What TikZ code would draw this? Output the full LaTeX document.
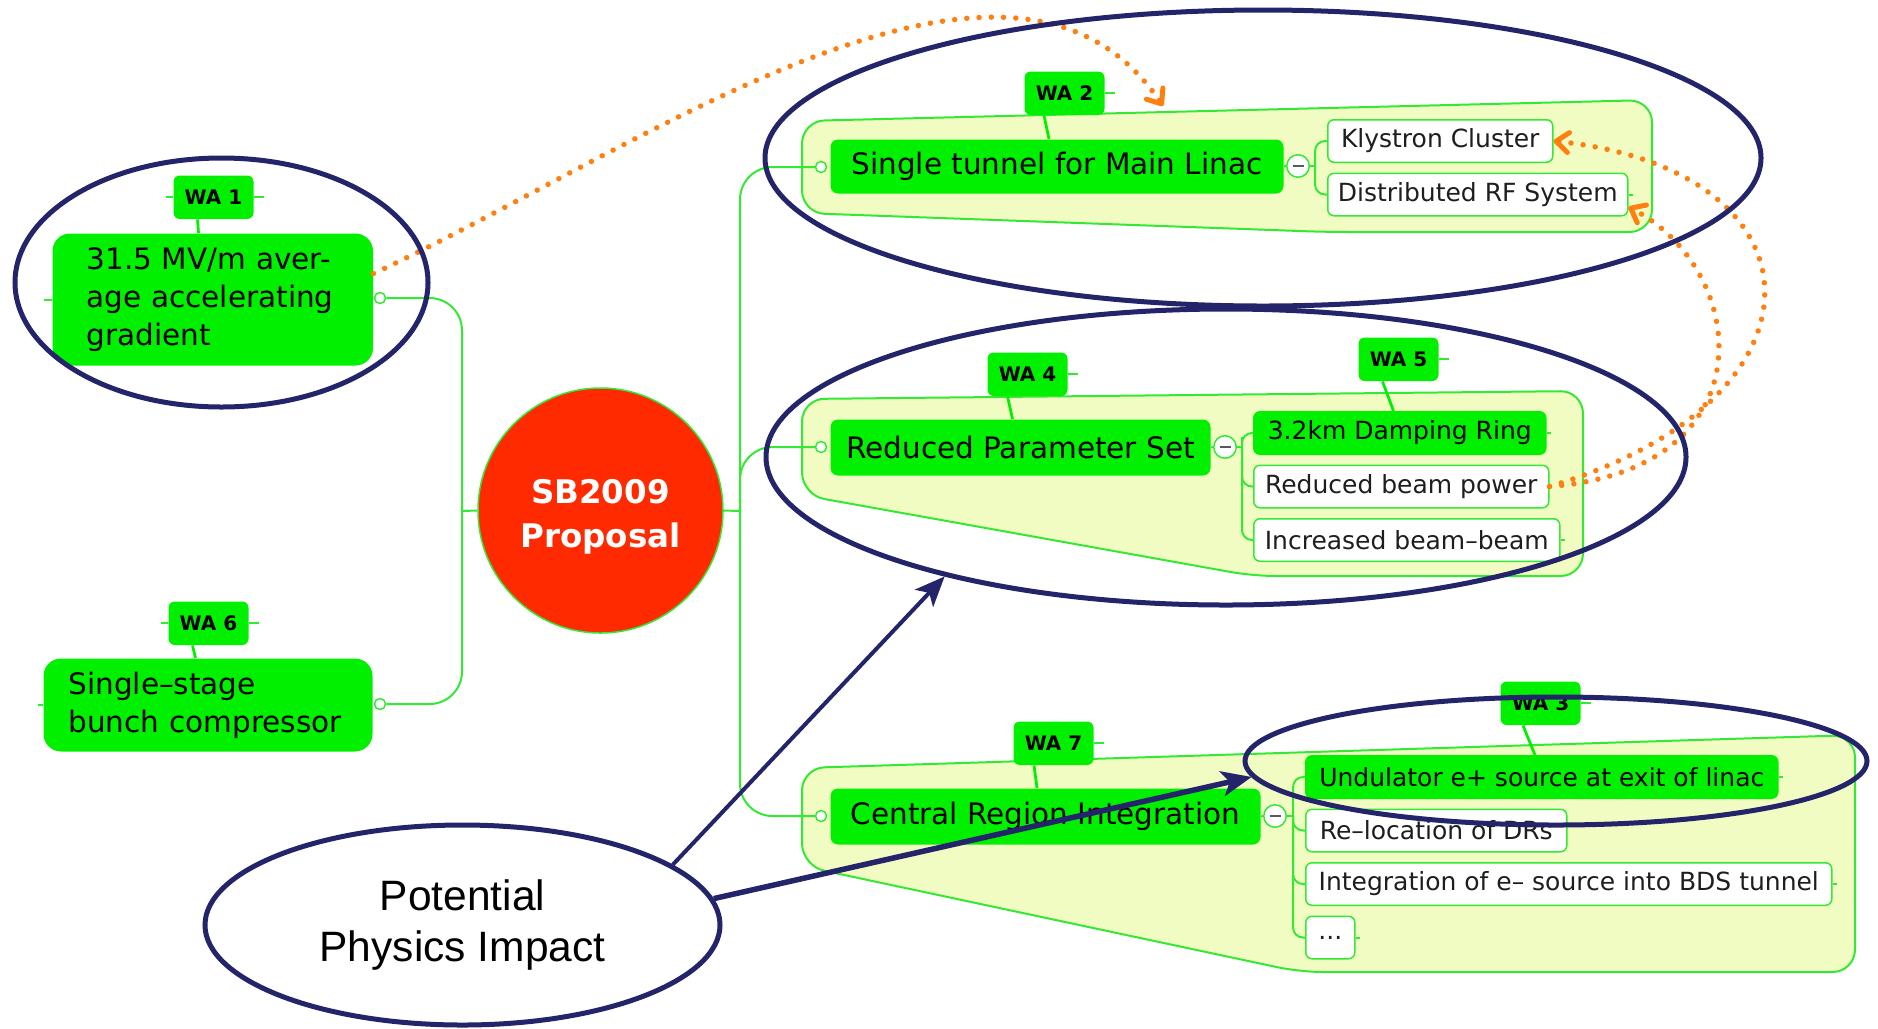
\documentclass[tikz,border=0pt]{standalone}
\usepackage{fontspec}
\setmainfont{DejaVu Sans}
\newfontfamily\physfont{Liberation Sans}
\usetikzlibrary{arrows.meta,positioning,shapes.geometric}
\definecolor{mapgreen}{HTML}{00F000}
\definecolor{linegreen}{HTML}{35E835}
\definecolor{groupfill}{HTML}{F1FCC3}
\definecolor{rootred}{HTML}{FF2A00}
\definecolor{navy}{HTML}{24246A}
\definecolor{dotorange}{HTML}{FF8010}
\definecolor{childtext}{HTML}{1E1E1E}

\begin{document}
\begin{tikzpicture}[
  x=0.4pt,y=-0.4pt,
  topic/.style={rounded corners=3pt,fill=mapgreen,inner sep=0pt,anchor=north west,minimum height=22pt,font=\fontsize{11.8}{14}\selectfont},
  bigtopic/.style={topic,rounded corners=7pt,align=left,font=\fontsize{11.8}{15.2}\selectfont},
  sub/.style={rounded corners=2.5pt,draw=linegreen,line width=0.6pt,fill=white,inner sep=0pt,anchor=north west,minimum height=17pt,text=childtext,font=\fontsize{10}{12}\selectfont},
  subhot/.style={sub,fill=mapgreen,draw=mapgreen,text=black},
  tag/.style={rounded corners=2.5pt,fill=mapgreen,inner sep=0pt,anchor=north west,minimum width=32pt,minimum height=17.4pt,font=\bfseries\fontsize{8}{9}\selectfont},
  root/.style={circle,fill=rootred,draw=linegreen,line width=0.6pt,inner sep=0pt,minimum size=98pt},
  roottext/.style={align=center,text=white,yshift=-2.4pt,font=\bfseries\fontsize{13}{17.6}\selectfont},
  port/.style={circle,draw=linegreen,fill=white,line width=0.6pt,inner sep=0pt,minimum size=4.4pt},
  fold/.style={circle,draw=linegreen,fill=white,line width=0.6pt,inner sep=0pt,minimum size=9pt},
  group/.style={draw=linegreen,fill=groupfill,line width=0.8pt,rounded corners=9pt},
  branch/.style={draw=linegreen,line width=0.8pt},
  pointer/.style={draw=mapgreen,line width=1.1pt},
  focus/.style={ellipse,draw=navy,line width=2pt,inner sep=0pt},
  impactarrow/.style={draw=navy,line width=1.6pt,-{Stealth[length=12pt,width=10pt,inset=3pt]}},
  link/.style={draw=dotorange,line width=2.2pt,line cap=round,dash pattern=on 0pt off 4.9pt,-{Straight Barb[length=5pt,width=8pt,line width=2pt,round]}}
]
\useasboundingbox (0,0) rectangle (1878,1028);

% topic groups
\draw[group] (802,121) -- (1652,100) -- (1652,232) -- (1327,232) -- (802,213) -- cycle;
\draw[group] (802,399) -- (1583,391) -- (1583,576) -- (1253,576) -- (802,495) -- cycle;
\draw[group] (802,768) -- (1855,735) -- (1855,972) -- (1300,972) -- (802,866) -- cycle;

% central topic and left side
\node[root,label={[roottext]center:SB2009\\Proposal}] (root) at (600.5,510.5) {};
\node[bigtopic,inner xsep=13.6pt,text width=101pt,minimum height=52.8pt] (wa1box) at (52,233) {31.5 MV/m aver-\\age accelerating\\gradient};
\node[bigtopic,inner xsep=10pt,text width=111.6pt,minimum height=37.2pt] (wa6box) at (43,658) {Single–stage\\bunch compressor};
\node[tag] (t1) at (173,175) {WA 1};
\node[tag] (t6) at (168,601) {WA 6};

% right side main topics
\node[topic,minimum width=181.2pt,minimum height=21.6pt] (b2) at (830,139) {Single tunnel for Main Linac};
\node[topic,minimum width=152pt,minimum height=22.4pt] (b4) at (830,419) {Reduced Parameter Set};
\node[topic,minimum width=172pt,minimum height=22.4pt] (b7) at (830,788) {Central Region Integration};
\node[tag] (t2) at (1024,71) {WA 2};
\node[tag] (t4) at (987,352) {WA 4};
\node[tag] (t7) at (1013,721) {WA 7};

% subtopics
\node[sub,minimum width=90pt] (klystron) at (1327,119) {Klystron Cluster};
\node[sub,minimum width=120pt,below=3.8pt of klystron.south west,anchor=north west] (distrf) {Distributed RF System};

\node[subhot,minimum width=116.8pt] (damping) at (1253,411) {3.2km Damping Ring};
\node[sub,minimum width=118pt,below=3.8pt of damping.south west,anchor=north west] (beampower) {Reduced beam power};
\node[sub,minimum width=122.4pt,below=3.8pt of beampower.south west,anchor=north west] (beambeam) {Increased beam–beam};
\node[tag] (t5) at (1358,337) {WA 5};

\node[subhot,minimum width=188.8pt] (undulator) at (1305,755) {Undulator e+ source at exit of linac};
\node[sub,minimum width=104.4pt,below=3.8pt of undulator.south west,anchor=north west] (reloc) {Re–location of DRs};
\node[sub,minimum width=210.4pt,below=3.8pt of reloc.south west,anchor=north west] (bds) {Integration of e– source into BDS tunnel};
\node[sub,minimum width=19.6pt,below=3.8pt of bds.south west,anchor=north west] (dots) {...};
\node[tag] (t3) at (1500,681) {WA 3};

% ports, folds and joints
\node[port] (o1) at (380,298) {};
\node[port] (o6) at (380,704) {};
\node[port] (o2) at (821,167) {};
\node[port] (o4) at (821,447) {};
\node[port] (o7) at (821,816) {};
\node[fold] (m2) at (1298,166) {};
\node[fold] (m4) at (1225,447) {};
\node[fold] (m7) at (1275,816) {};
\coordinate (ljoin) at (462,511);
\coordinate (rjoin) at (740,511);
\coordinate (j2) at (1315,166);
\coordinate (j4) at (1242,447);
\coordinate (j7) at (1293,816);
\coordinate (g2mark) at (1163,106);

% branches
\draw[branch,rounded corners=13pt] (o1.east) -| (ljoin) |- (o6.east);
\draw[branch] (ljoin) -- (root.west);
\draw[branch] (root.east) -- (rjoin);
\draw[branch,rounded corners=13pt] (o2.west) -| (rjoin) |- (o7.west);
\draw[branch,rounded corners=13pt] (rjoin) |- (o4.west);
\draw[branch] (b2.east) -- (m2.west);
\draw[branch] (b4.east) -- (m4.west);
\draw[branch] (b7.east) -- (m7.west);
\draw[branch] (m2.east) -- (j2);
\draw[branch] (m4.east) -- (j4);
\draw[branch] (m7.east) -- (j7);
\draw[branch,rounded corners=4pt] (klystron.west) -| (j2) |- (distrf.west);
\draw[branch,rounded corners=4pt] (damping.west) -| (j4) |- (beambeam.west);
\draw[branch,rounded corners=4pt] (j4) |- (beampower.west);
\draw[branch,rounded corners=4pt] (undulator.west) -| (j7) |- (dots.west);
\draw[branch,rounded corners=4pt] (j7) |- (reloc.west);
\draw[branch,rounded corners=4pt] (j7) |- (bds.west);
\foreach \m in {m2,m4,m7}
  \draw[line width=0.9pt,gray!70!black] ([xshift=-2.2pt]\m.center) -- ([xshift=2.2pt]\m.center);

% stubs and tag pointers
\foreach \t in {t1,t2,t3,t4,t5,t6,t7}
  \draw[branch] (\t.east) -- ++(10,0);
\foreach \t in {t1,t6}
  \draw[branch] (\t.west) -- ++(-7,0);
\foreach \n in {distrf,damping,beambeam,undulator,bds,dots}
  \draw[branch] (\n.east) -- ++(4,0);
\draw[branch] (wa1box.west) -- ++(-8,0);
\draw[branch] (wa6box.west) -- ++(-5,0);
\foreach \t/\b/\a/\c in {t1/wa1box/-6.4/-6,t6/wa6box/-6.4/-5.2,t2/b2/-8.2/-6.2,t4/b4/-8/-6,t5/damping/-6.4/-2,t7/b7/-7.8/-6.6,t3/undulator/-7/-2.2}
  \draw[pointer] ([xshift=\a pt]\t.south) -- ([xshift=\c pt]\t.south |- \b.north);

% relationships
\draw[link] ([yshift=10.4pt]wa1box.east) .. controls (640,150) and (1010,-120) .. (g2mark);
\draw[link] (beampower.east) .. controls (1840,400) and (1830,170) .. (klystron.east);
\draw[link] (beampower.east) .. controls (1770,470) and (1750,270) .. ([yshift=-5pt]distrf.east);

% highlights
\node[focus,minimum width=165.2pt,minimum height=99.6pt] (e1) at (221.5,282.5) {};
\node[focus,minimum width=398.4pt,minimum height=118.4pt] (e2) at (1263,158) {};
\node[focus,minimum width=368pt,minimum height=118.4pt] (e4) at (1226,457) {};
\node[focus,minimum width=248.8pt,minimum height=51.2pt] (e3) at (1556,761) {};
\node[focus,fill=white,minimum width=206pt,minimum height=80pt,align=center,font=\physfont\fontsize{17}{20.4}\selectfont] (impact) at (462.5,925) {Potential\\Physics Impact};
\draw[impactarrow] (impact.16) -- (e4.203);
\draw[impactarrow,line width=2.2pt] (impact.6) -- (e3.183);
\end{tikzpicture}
\end{document}
